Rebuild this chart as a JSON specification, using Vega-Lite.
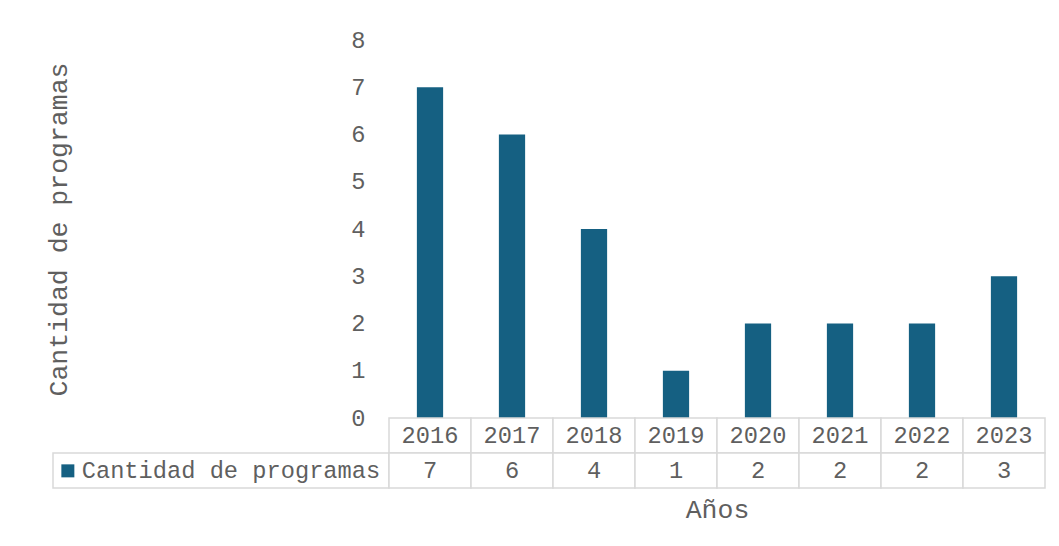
{
  "$schema": "https://vega.github.io/schema/vega-lite/v6.json",
  "background": "white",
  "padding": {"left": 45, "top": 28, "right": 10, "bottom": 30},
  "datasets": {
    "programas": [
      {"year": "2016", "value": 7},
      {"year": "2017", "value": 6},
      {"year": "2018", "value": 4},
      {"year": "2019", "value": 1},
      {"year": "2020", "value": 2},
      {"year": "2021", "value": 2},
      {"year": "2022", "value": 2},
      {"year": "2023", "value": 3}
    ]
  },
  "columns": 2,
  "spacing": 0,
  "bounds": "flush",
  "resolve": {"legend": {"color": "independent"}, "scale": {"color": "independent", "x": "independent", "y": "independent"}},
  "config": {
    "view": {"stroke": null},
    "font": "Liberation Mono",
    "axis": {"labelFont": "Liberation Mono", "titleFont": "Liberation Mono", "labelColor": "#5f5f5f", "titleColor": "#5f5f5f", "titleFontWeight": "normal"},
    "legend": {"labelFont": "Liberation Mono"}
  },
  "concat": [
    {
      "width": 336,
      "height": 378,
      "data": {"values": [{}]},
      "mark": {"type": "text"},
      "encoding": {"text": {"value": ""}}
    },
    {
      "width": 656,
      "height": 378,
      "data": {"name": "programas"},
      "mark": {"type": "bar", "color": "#156082"},
      "encoding": {
        "x": {"field": "year", "type": "nominal", "axis": null, "scale": {"paddingInner": 0.68, "paddingOuter": 0.34}},
        "y": {
          "field": "value", "type": "quantitative",
          "scale": {"domain": [0, 8], "nice": false},
          "axis": {
            "values": [0, 1, 2, 3, 4, 5, 6, 7, 8],
            "domain": false, "ticks": false, "grid": false,
            "labelFontSize": 23.7, "labelPadding": 24,
            "title": "Cantidad de programas", "titleFontSize": 26.5, "titlePadding": 278
          }
        },
        "color": {
          "datum": "Cantidad de programas",
          "type": "nominal",
          "scale": {"range": ["#156082"]},
          "legend": {
            "orient": "none", "legendX": -333, "legendY": 419,
            "title": null, "padding": 0,
            "symbolType": "square", "symbolSize": 169, "symbolStrokeWidth": 0,
            "labelFontSize": 23.7, "labelColor": "#5f5f5f", "labelOffset": 2, "labelLimit": 500
          }
        }
      }
    },
    {
      "width": 336,
      "height": 70,
      "data": {"values": [{}]},
      "mark": {"type": "rect", "filled": false, "stroke": "#d9d9d9", "strokeWidth": 1.5},
      "encoding": {
        "y": {"datum": "Valor", "type": "nominal", "axis": null, "scale": {"domain": ["Año", "Valor"], "paddingInner": 0, "paddingOuter": 0}}
      }
    },
    {
      "width": 656,
      "height": 70,
      "data": {"name": "programas"},
      "encoding": {
        "x": {
          "field": "year", "type": "nominal",
          "scale": {"paddingInner": 0, "paddingOuter": 0},
          "axis": {"labels": false, "ticks": false, "domain": false, "title": "Años", "titleFontSize": 26.5, "titlePadding": 8}
        }
      },
      "layer": [
        {
          "mark": {"type": "rect", "fill": "white", "stroke": "#d9d9d9", "strokeWidth": 1.5},
          "encoding": {"y": {"datum": "Año", "type": "nominal", "axis": null, "scale": {"domain": ["Año", "Valor"], "paddingInner": 0, "paddingOuter": 0}}}
        },
        {
          "mark": {"type": "rect", "fill": "white", "stroke": "#d9d9d9", "strokeWidth": 1.5},
          "encoding": {"y": {"datum": "Valor", "type": "nominal"}}
        },
        {
          "mark": {"type": "text", "fontSize": 23.7, "color": "#5f5f5f"},
          "encoding": {"y": {"datum": "Año", "type": "nominal"}, "text": {"field": "year"}}
        },
        {
          "mark": {"type": "text", "fontSize": 23.7, "color": "#5f5f5f"},
          "encoding": {"y": {"datum": "Valor", "type": "nominal"}, "text": {"field": "value"}}
        }
      ]
    }
  ]
}
